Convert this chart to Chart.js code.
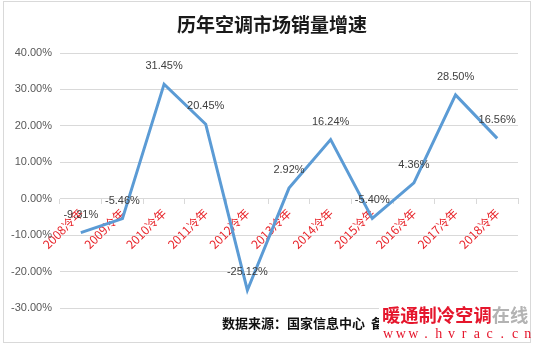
<!DOCTYPE html>
<html>
<head>
<meta charset="utf-8">
<style>
    html, body { margin: 0; padding: 0; background: #fff; }
    #growthChart { display: block; }
</style>
<script src="https://cdn.jsdelivr.net/npm/chart.js@4/dist/chart.umd.min.js"></script>
</head>
<body>
<canvas id="growthChart" width="537" height="347"></canvas>
<script>
// 冷年 & 增速 (%)
const years = ['2008冷年', '2009冷年', '2010冷年', '2011冷年', '2012冷年', '2013冷年',
    '2014冷年', '2015冷年', '2016冷年', '2017冷年', '2018冷年']
const growth = [-9.31, -5.46, 31.45, 20.45, -25.12, 2.92, 16.24, -5.40, 4.36, 28.50, 16.56]
const yTicks = [40, 30, 20, 10, 0, -10, -20, -30]

const chartTitle = '历年空调市场销量增速'
const sourceText = '数据来源：国家信息中心  备'

;(function () {
    const CJK = '"Noto Sans CJK SC", "Noto Sans", sans-serif'
    const LATIN = '"Liberation Sans", Arial, sans-serif'

    // frame, title, footer and watermark
    const decorPlugin = {
        id: 'decor',
        beforeDraw(chart) {
            const ctx = chart.ctx
            ctx.save()
            ctx.fillStyle = '#fff'
            ctx.fillRect(0, 0, chart.width, chart.height)
            ctx.strokeStyle = '#d9d9d9'
            ctx.lineWidth = 1
            ctx.strokeRect(3.5, 1.5, 527, 341)

            ctx.fillStyle = '#1a1a1a'
            ctx.font = 'bold 19px ' + CJK
            ctx.textAlign = 'center'
            ctx.textBaseline = 'middle'
            ctx.fillText(chartTitle, 272, 25)
            ctx.restore()
        },
        afterDraw(chart) {
            const ctx = chart.ctx
            ctx.save()
            ctx.textBaseline = 'middle'
            ctx.textAlign = 'left'
            ctx.fillStyle = '#111'
            ctx.font = 'bold 13px ' + CJK
            ctx.fillText(sourceText, 222, 323)

            // 站点水印
            ctx.fillStyle = '#fff'
            ctx.fillRect(379, 304, 151, 38)
            ctx.font = 'bold 18.3px ' + CJK
            ctx.fillStyle = '#e5162c'
            ctx.fillText('暖通制冷空调', 382, 315)
            const w = ctx.measureText('暖通制冷空调').width
            ctx.fillStyle = '#b3b3b3'
            ctx.fillText('在线', 382 + w, 315)

            ctx.fillStyle = '#e5162c'
            ctx.font = '14px "Liberation Serif", "DejaVu Serif", serif'
            ctx.textAlign = 'center'
            const url = 'www.hvrac.cn'
            for (let i = 0; i < url.length; i++) {
                ctx.fillText(url[i], 388 + i * 12.7, 334)
            }
            ctx.restore()
        }
    }

    // value labels above each point
    const valueLabels = {
        id: 'valueLabels',
        afterDatasetsDraw(chart) {
            const ctx = chart.ctx
            const meta = chart.getDatasetMeta(0)
            ctx.save()
            ctx.font = '11px ' + LATIN
            ctx.fillStyle = '#404040'
            ctx.textAlign = 'center'
            ctx.textBaseline = 'middle'
            meta.data.forEach((pt, i) => {
                ctx.fillText(growth[i].toFixed(2) + '%', pt.x, pt.y - 18)
            })
            ctx.restore()
        }
    }

    new Chart(document.getElementById('growthChart'), {
        type: 'line',
        data: {
            labels: years,
            datasets: [
                {
                    data: growth,
                    borderColor: '#5b9bd5',
                    borderWidth: 3,
                    pointRadius: 0,
                    tension: 0,
                    fill: false
                }
            ]
        },
        options: {
            responsive: false,
            animation: false,
            devicePixelRatio: 1,
            layout: {
                padding: { left: 0, right: 19, top: 53, bottom: 39 }
            },
            plugins: {
                legend: { display: false },
                tooltip: { enabled: false }
            },
            scales: {
                x: {
                    position: { y: 0 },
                    offset: true,
                    afterFit: (scale) => { scale.height = 0 },
                    border: { color: '#d9d9d9', width: 1 },
                    grid: {
                        offset: true,
                        drawOnChartArea: false,
                        drawTicks: true,
                        tickLength: 5,
                        color: '#d9d9d9'
                    },
                    ticks: {
                        autoSkip: false,
                        minRotation: 45,
                        maxRotation: 45,
                        padding: 2,
                        color: '#e8242a',
                        font: { family: CJK, size: 12 }
                    }
                },
                y: {
                    min: -30,
                    max: 40,
                    afterFit: (scale) => { scale.width = 60 },
                    afterBuildTicks: (scale) => {
                        scale.ticks = yTicks.map((v) => ({ value: v }))
                    },
                    border: { display: false },
                    grid: {
                        color: '#d9d9d9',
                        drawTicks: false
                    },
                    ticks: {
                        padding: 8,
                        color: '#595959',
                        font: { family: LATIN, size: 11 },
                        callback: (v) => v.toFixed(2) + '%'
                    }
                }
            }
        },
        plugins: [decorPlugin, valueLabels]
    })
})()
</script>
</body>
</html>
